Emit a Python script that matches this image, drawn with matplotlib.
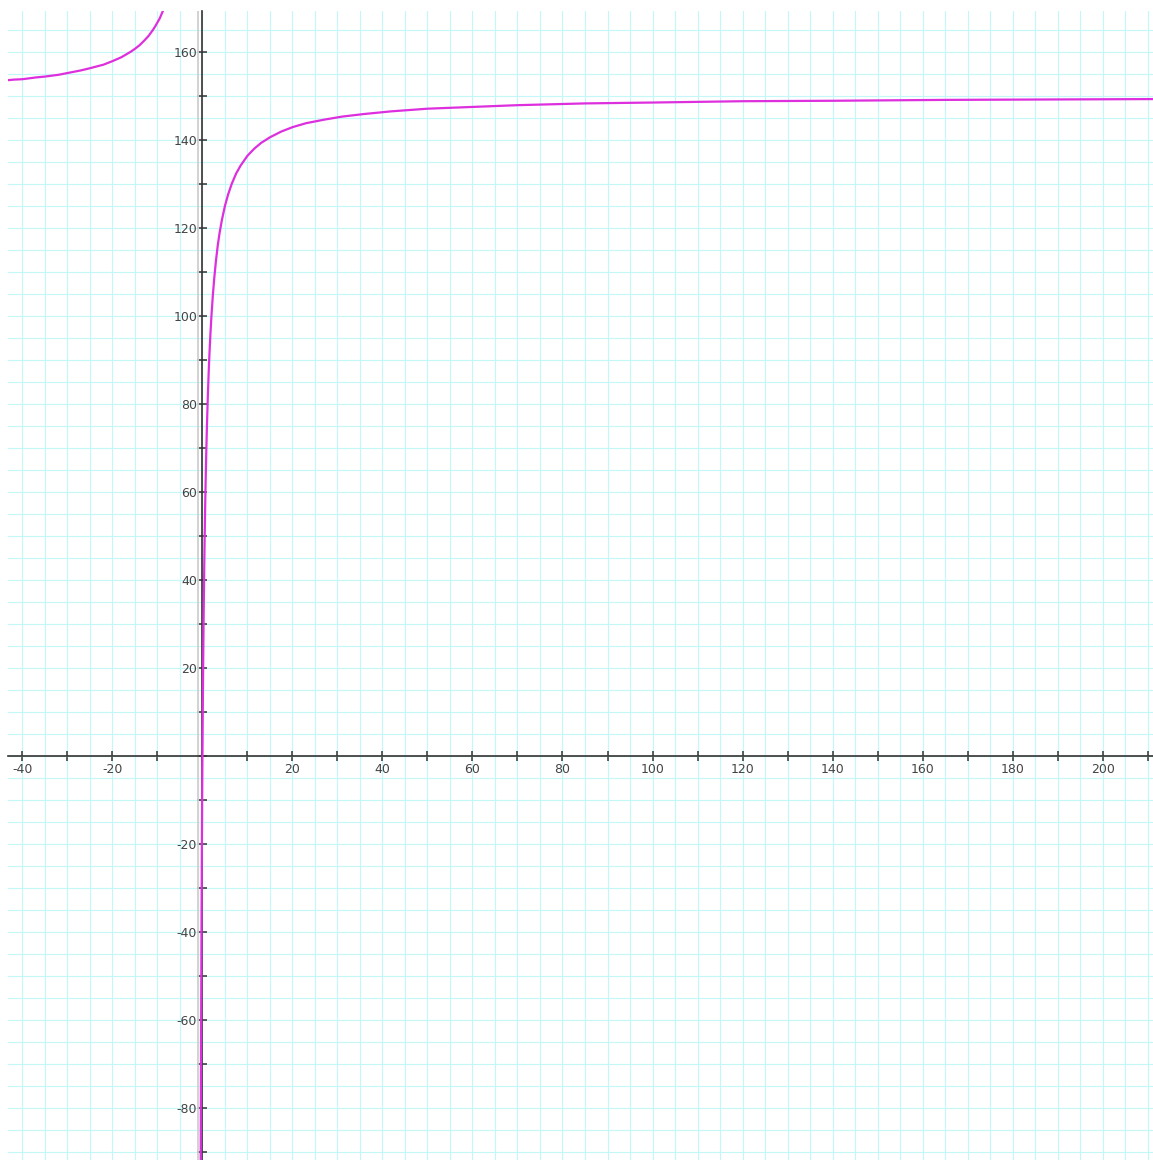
import matplotlib
matplotlib.use("Agg")
import matplotlib.pyplot as plt
from matplotlib.ticker import FixedLocator, MultipleLocator, FuncFormatter

plt.rcParams['axes.unicode_minus'] = False
plt.rcParams['font.family'] = ['DejaVu Sans']

# Left branch (x < -1)
left_x = [-44, -42, -40, -37, -35, -32, -30, -27, -25, -22, -20, -18, -17, -16, -15,
          -14, -13, -12, -11.5, -11, -10.5, -10, -9.5, -9, -8.5, -8]
left_y = [153.5, 153.7, 153.8, 154.2, 154.4, 154.8, 155.2, 155.8, 156.3, 157.1, 157.9,
          158.8, 159.4, 160.0, 160.7, 161.5, 162.5, 163.6, 164.3, 165.0, 165.8, 166.7,
          167.6, 168.8, 170.0, 171.4]

# Right branch (x > -1)
right_x = [-0.42, -0.4, -0.38, -0.35, -0.3, -0.25, -0.2, -0.15, -0.1, -0.05, 0, 0.05,
           0.1, 0.15, 0.2, 0.3, 0.4, 0.5, 0.6, 0.7, 0.85, 1.0, 1.2, 1.4, 1.6, 1.8, 2.0,
           2.3, 2.6, 3.0, 3.4, 3.8, 4.3, 5.0, 5.7, 6.5, 7.5, 8.5, 10, 11.5, 13, 15, 17.5,
           20, 23, 27, 31, 36, 42, 50, 60, 70, 85, 100, 120, 140, 165, 190, 215]
right_y = [-108.6, -100.0, -91.9, -80.8, -64.3, -50.0, -37.5, -26.5, -16.7, -7.9, 0.0,
           7.1, 13.6, 19.6, 25.0, 34.6, 42.9, 50.0, 56.3, 61.8, 68.9, 75.0, 81.8, 87.5,
           92.3, 96.4, 100.0, 104.5, 108.3, 112.5, 116.0, 118.8, 121.7, 125.0, 127.6,
           130.0, 132.4, 134.2, 136.4, 138.0, 139.3, 140.6, 141.9, 142.9, 143.8, 144.6,
           145.3, 145.9, 146.5, 147.1, 147.5, 147.9, 148.3, 148.5, 148.8, 148.9, 149.1,
           149.2, 149.3]

asymptote_x = -1

x_major = list(range(-40, 211, 10))
y_major = list(range(-90, 171, 10))

fig = plt.figure(figsize=(11.53, 11.60), dpi=100)
ax = fig.add_axes([8 / 1153, 0, 1145 / 1153, 1149 / 1160])
ax.set_xlim(-43.2, 211.2)
ax.set_ylim(-91.8, 169.3)

grid_color = '#c4f7f7'
ax.xaxis.set_minor_locator(MultipleLocator(5))
ax.yaxis.set_minor_locator(MultipleLocator(5))
ax.grid(which='both', color=grid_color, linewidth=0.8)
ax.set_axisbelow(True)

ax.axvline(asymptote_x, color='#cfcfcf', linewidth=1.3, zorder=1.5)

for s in ['top', 'right']:
    ax.spines[s].set_visible(False)
ax.spines['left'].set_position(('data', 0))
ax.spines['bottom'].set_position(('data', 0))
for s in ['left', 'bottom']:
    ax.spines[s].set_color('#333333')
    ax.spines[s].set_linewidth(1.2)
    ax.spines[s].set_zorder(2)

ax.xaxis.set_major_locator(FixedLocator(x_major))
ax.yaxis.set_major_locator(FixedLocator(y_major))

def fmt(v, pos):
    iv = int(round(v))
    if iv == 0 or iv % 20 != 0:
        return ''
    return str(iv)

ax.xaxis.set_major_formatter(FuncFormatter(fmt))
ax.yaxis.set_major_formatter(FuncFormatter(fmt))
ax.tick_params(which='major', direction='inout', length=7.5, width=1.1,
               color='#333333', labelcolor='#444444', labelsize=9)
ax.tick_params(axis='x', pad=1)
ax.tick_params(axis='y', pad=0)
ax.tick_params(which='minor', length=0)

curve_color = '#dd2fdd'
ax.plot(left_x, left_y, color=curve_color, linewidth=1.6, zorder=3,
        solid_joinstyle='round')
ax.plot(right_x, right_y, color=curve_color, linewidth=1.6, zorder=3,
        solid_joinstyle='round')

fig.savefig('out.png', dpi=100)
